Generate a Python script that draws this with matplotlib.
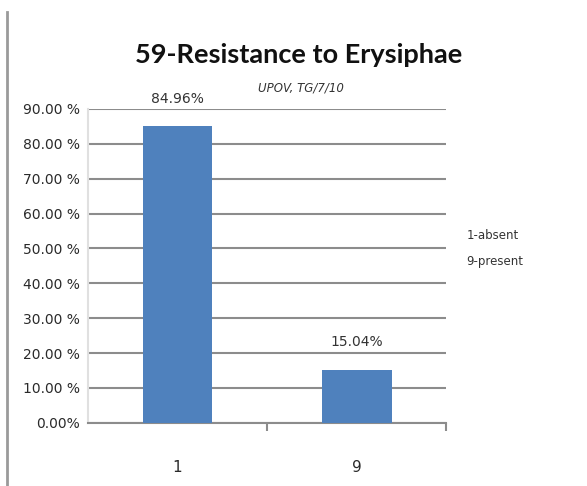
import matplotlib

matplotlib.use("Agg")
import matplotlib.pyplot as plt  # noqa: E402
from matplotlib.lines import Line2D  # noqa: E402

categories = ["1", "9"]
shares = [84.96, 15.04]
value_labels = ["84.96%", "15.04%"]
yticks = [0, 10, 20, 30, 40, 50, 60, 70, 80, 90]
ytick_labels = ["0.00%"] + [f"{v:.2f} %" for v in yticks[1:]]
legend_lines = ["1-absent", "9-present"]

plt.rcParams["font.family"] = ["DejaVu Sans"]

fig = plt.figure(figsize=(5.87, 4.86), dpi=100)
ax = fig.add_axes([0.150, 0.130, 0.610, 0.646])

x = range(len(categories))
ax.bar(x, shares, width=0.39, color="#4F81BD", zorder=3)
for xi, v, lab in zip(x, shares, value_labels):
    ax.text(xi, v + 6.0, lab, ha="center", va="bottom", fontsize=10, color="#333333")

ax.set_xlim(-0.5, 1.5)
ax.set_ylim(0, 90)
ax.set_yticks(yticks)
ax.set_yticklabels(ytick_labels, fontsize=10, color="#2a2a2a")
ax.set_xticks(list(x))
ax.set_xticklabels(categories, fontsize=11, color="#2a2a2a")
ax.set_xticks([0.5, 1.5], minor=True)
ax.tick_params(axis="x", which="major", length=0, pad=27)
ax.tick_params(axis="x", which="minor", length=6, width=1.5, color="#8c8c8c")
ax.tick_params(axis="y", length=0, pad=6)
ax.yaxis.grid(True, color="#8c8c8c", lw=1.5, zorder=0)
for side in ("top", "right"):
    ax.spines[side].set_visible(False)
ax.spines["left"].set_color("#e0e0e0")
ax.spines["left"].set_linewidth(1.5)
ax.spines["bottom"].set_color("#8c8c8c")
ax.spines["bottom"].set_linewidth(1.5)

fig.text(0.508, 0.887, "59-Resistance to Erysiphae", ha="center", va="center",
         fontsize=19.5, fontweight="bold", color="#111111", family=["Lato", "DejaVu Sans"])
fig.text(0.512, 0.818, "UPOV, TG/7/10", ha="center", va="center",
         fontsize=8.5, style="italic", color="#333333")
fig.text(0.795, 0.515, legend_lines[0], ha="left", va="center", fontsize=8.5, color="#333333")
fig.text(0.795, 0.462, legend_lines[1], ha="left", va="center", fontsize=8.5, color="#333333")

fig.add_artist(Line2D([0.012, 0.012], [0.0, 0.975], transform=fig.transFigure,
                      color="#9a9a9a", lw=2))

fig.savefig("out.png", dpi=100)
